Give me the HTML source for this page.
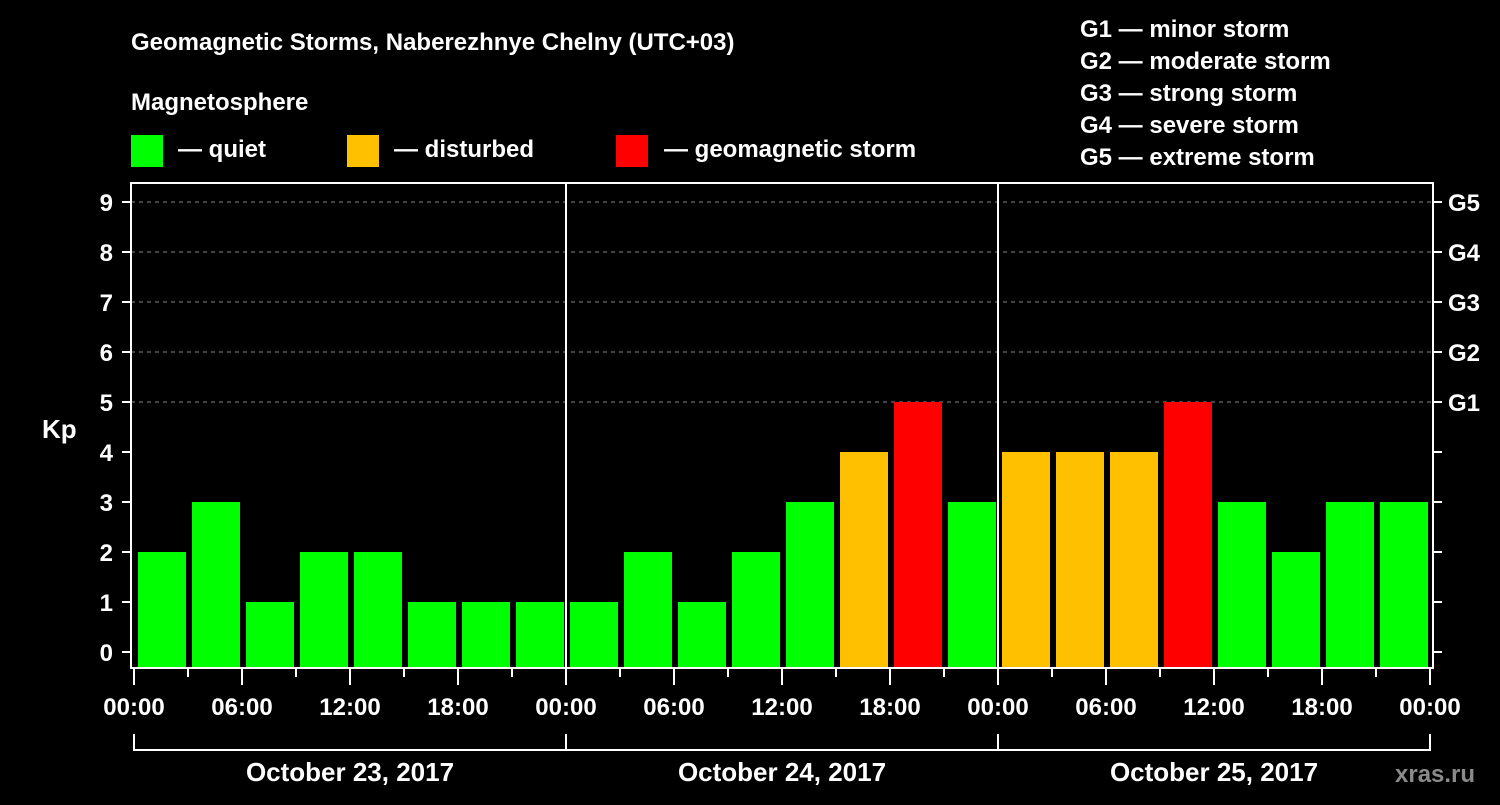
<!DOCTYPE html>
<html><head><meta charset="utf-8"><style>
body{margin:0;background:#000;}
svg text{font-family:"Liberation Sans",Arial,sans-serif;font-weight:bold;fill:#fff;}
</style></head><body>
<svg id="c" width="1500" height="800" xmlns="http://www.w3.org/2000/svg">
<rect width="1500" height="800" fill="#000"/>
<text x="131" y="50" font-size="24">Geomagnetic Storms, Naberezhnye Chelny (UTC+03)</text>
<text x="131" y="110" font-size="24">Magnetosphere</text>
<g><rect x="131" y="135" width="32" height="32" fill="#00ff00"/><text x="178" y="157" font-size="24">— quiet</text></g>
<g><rect x="347" y="135" width="32" height="32" fill="#ffc000"/><text x="394" y="157" font-size="24">— disturbed</text></g>
<g><rect x="616" y="135" width="32" height="32" fill="#ff0000"/><text x="664" y="157" font-size="24">— geomagnetic storm</text></g>
<g font-size="24">
<text x="1080" y="37">G1 — minor storm</text>
<text x="1080" y="69">G2 — moderate storm</text>
<text x="1080" y="101">G3 — strong storm</text>
<text x="1080" y="133">G4 — severe storm</text>
<text x="1080" y="165">G5 — extreme storm</text>
</g>
<text x="42" y="438" font-size="26">Kp</text>
<text x="1395" y="782" font-size="24" fill="#888" style="fill:#8a8a8a">xras.ru</text>
<g id="plot"></g>
</svg>
<script>
const days = ["October 23, 2017","October 24, 2017","October 25, 2017"];
const kpValues = [2,3,1,2,2,1,1,1, 1,2,1,2,3,4,5,3, 4,4,4,5,3,2,3,3];
const yTicks = [0,1,2,3,4,5,6,7,8,9];
const gLabels = ["G1","G2","G3","G4","G5"];
const timeLabels = ["00:00","06:00","12:00","18:00"];

const NS="http://www.w3.org/2000/svg";
const g=document.getElementById('plot');
const L=131,R=1433,T=183,B=668,X0=134,DAY=432;
const slot=DAY/8;
function y(v){return 652-v*50;}
function xs(i){return X0+i*slot;}
function mk(t,a){const e=document.createElementNS(NS,t);for(const k in a)e.setAttribute(k,a[k]);g.appendChild(e);return e;}
function color(v){return v>=5?"#ff0000":(v>=4?"#ffc000":"#00ff00");}
// grid
yTicks.forEach(v=>{
  if(v>=5){const ln=mk('line',{x1:L,x2:R,y1:y(v),y2:y(v),stroke:'#888','stroke-dasharray':'4,4','stroke-width':1});
  }
  const t=mk('line',{x1:L-9,x2:L,y1:y(v),y2:y(v),stroke:'#fff','stroke-width':2});
  
  const t2=mk('line',{x1:R,x2:R+9,y1:y(v),y2:y(v),stroke:'#fff','stroke-width':2});
  
  const lb=mk('text',{x:L-18,y:y(v)+9,'font-size':24,'text-anchor':'end'});lb.textContent=v;
  
});
gLabels.forEach((s,i)=>{const lb=mk('text',{x:1448,y:y(5+i)+9,'font-size':24});lb.textContent=s;
  });
// bars
kpValues.forEach((v,i)=>{
  const r=mk('rect',{x:xs(i)+4,y:y(v),width:slot-6,height:B-y(v),fill:color(v)});
  
});
// frame
const fr=mk('rect',{x:L,y:T,width:R-L,height:B-T,fill:'none',stroke:'#fff','stroke-width':2});

[1,2].forEach(d=>{const ln=mk('line',{x1:X0+d*DAY,x2:X0+d*DAY,y1:T,y2:B,stroke:'#fff','stroke-width':2});
  });
// x ticks
for(let i=0;i<=24;i++){
  const major=i%2==0;
  const tk=mk('line',{x1:xs(i),x2:xs(i),y1:B,y2:B+(major?17:9),stroke:'#fff','stroke-width':2});
  
  if(major){const lb=mk('text',{x:xs(i),y:715,'font-size':24,'text-anchor':'middle'});
    lb.textContent=timeLabels[(i/2)%4];
    }
}
// day brackets
const br=mk('path',{d:`M${X0} 734 V750 H${X0+3*DAY} V734 M${X0+DAY} 734 V750 M${X0+2*DAY} 734 V750`,stroke:'#fff','stroke-width':2,fill:'none'});

days.forEach((d,i)=>{const lb=mk('text',{x:X0+i*DAY+DAY/2,y:781,'font-size':26,'text-anchor':'middle'});lb.textContent=d;
  });
</script>
</body></html>
